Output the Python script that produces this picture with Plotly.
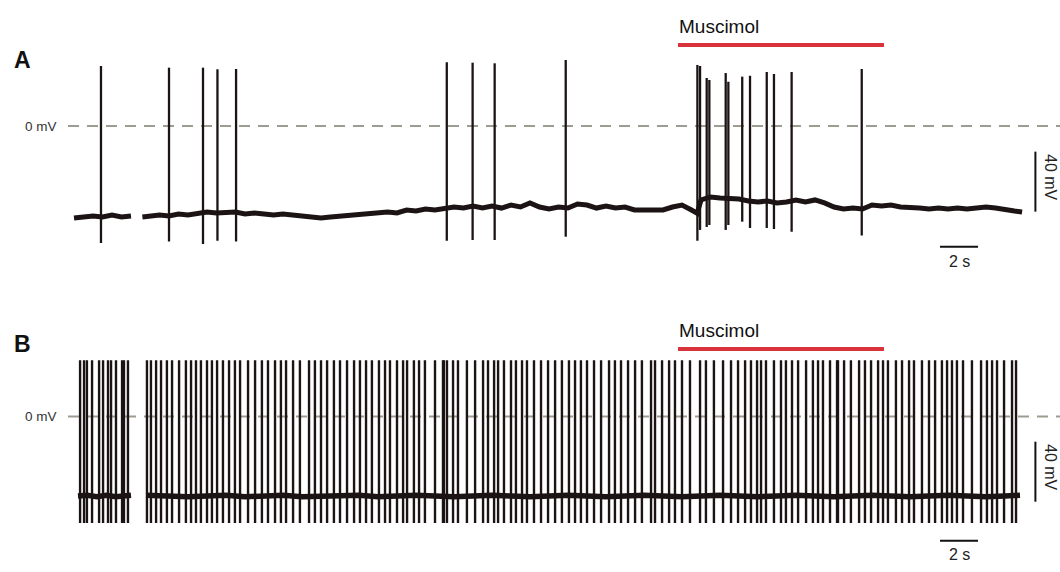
import plotly.graph_objects as go

# ---------------- data ----------------
# Panel A: spike times (s), peak and trough potentials (mV)
A_SPIKE_T = [1.42, 5.00, 6.79, 7.55, 8.53, 19.62, 20.98, 22.14, 25.88,
             32.81, 32.95, 33.30, 33.44, 34.30, 34.44, 35.17, 35.58, 36.46, 36.84, 37.77, 41.46]
A_SPIKE_PEAK = [40, 38.9, 38.9, 37.8, 38, 42.5, 42.2, 41.8, 44,
                40.7, 40, 32, 30.7, 35.3, 29.5, 32.9, 33.5, 36, 34.7, 36, 38]
A_SPIKE_TROUGH = [-78, -77, -78.7, -76.5, -77, -76.5, -76, -76, -73.8,
                  -76.5, -69.3, -67.3, -66, -69.3, -66, -63.8, -68, -68, -68.7, -70.5, -73]

# Panel A: baseline membrane potential (None = gap in recording)
A_BASE_T = [0.0, 0.5, 1.0, 1.5, 2.0, 2.5, 3.0, None,
            3.6, 4.0, 4.5, 5.0, 5.5, 6.0, 6.5, 7.0, 7.5, 8.0, 8.5, 9.0, 9.5, 10.0,
            10.5, 11.0, 11.5, 12.0, 12.5, 13.0, 13.5, 14.0, 14.5, 15.0, 15.5, 16.0,
            16.5, 17.0, 17.5, 18.0, 18.5, 19.0, 19.5, 20.0, 20.5, 21.0, 21.5, 22.0,
            22.5, 23.0, 23.5, 24.0, 24.5, 25.0, 25.5, 26.0, 26.5, 27.0, 27.5, 28.0,
            28.5, 29.0, 29.5, 30.0, 30.5, 31.0, 31.5, 32.0, 32.5, 32.8, 33.0, 33.5,
            34.0, 34.5, 35.0, 35.5, 36.0, 36.5, 37.0, 37.5, 38.0, 38.5, 39.0, 39.5,
            40.0, 40.5, 41.0, 41.5, 42.0, 42.5, 43.0, 43.5, 44.0, 44.5, 45.0, 45.5,
            46.0, 46.5, 47.0, 47.5, 48.0, 48.5, 49.0, 49.5, 49.9]
A_BASE_MV = [-61.3, -60.7, -60.0, -60.7, -59.3, -60.7, -60.0, None,
             -60.7, -60.0, -59.3, -60.0, -58.7, -59.3, -58.7, -57.3, -58.0, -58.0, -57.3, -58.7, -58.0, -58.7,
             -59.3, -58.7, -59.3, -60.0, -60.7, -61.3, -60.7, -60.0, -59.3, -59.3, -58.7, -58.0,
             -57.3, -58.0, -56.0, -56.7, -55.3, -56.0, -55.3, -54.0, -54.7, -53.3, -54.7, -53.3,
             -54.7, -52.7, -54.0, -51.3, -54.0, -55.3, -54.0, -54.7, -52.0, -52.7, -54.7, -53.3,
             -54.7, -54.0, -56.0, -56.0, -56.7, -56.0, -54.0, -52.7, -56.0, -58.2, -49.3, -47.3,
             -48.0, -48.0, -48.7, -50.0, -50.7, -50.0, -51.3, -50.7, -49.3, -50.7, -49.3, -51.3,
             -54.0, -55.3, -54.7, -55.3, -52.7, -53.3, -52.7, -54.0, -54.0, -54.7, -55.3, -54.7,
             -55.3, -54.7, -55.3, -54.7, -54.0, -54.7, -55.3, -56.7, -57.3]

# Panel B: spike times (s)
B_SPIKE_T = [0.32, 0.53, 0.68, 0.95, 1.32, 1.53, 1.79, 1.95, 2.21, 2.53, 2.63, 2.84,
             3.84, 4.05, 4.32, 4.58, 4.89, 5.16, 5.53, 5.89, 6.16, 6.42, 6.68, 7.00, 7.26, 7.53,
             7.84, 8.16, 8.47, 8.74, 9.16, 9.53, 9.89, 10.21, 10.58, 10.89, 11.16, 11.53, 11.89,
             12.37, 12.68, 13.00, 13.32, 13.68, 14.00, 14.37, 14.74, 15.05, 15.37, 15.68, 16.05,
             16.37, 16.63, 17.00, 17.32, 17.53, 17.89, 18.16, 18.47, 19.00, 19.42, 19.47, 19.63,
             19.95, 20.21, 20.68, 21.11, 21.53, 21.79, 22.11, 22.32, 22.63, 23.00, 23.26, 23.58,
             23.84, 24.21, 24.58, 24.95, 25.32, 25.68, 26.05, 26.37, 26.68, 27.00, 27.37, 27.74,
             28.16, 28.47, 28.79, 29.16, 29.53, 29.89, 30.37, 30.58, 30.95, 31.32, 31.63, 32.00,
             32.42, 32.95, 33.26, 33.68, 34.16, 34.58, 34.95, 35.32, 35.63, 35.95, 36.16, 36.42,
             36.84, 37.21, 37.47, 37.79, 38.11, 38.53, 38.89, 39.16, 39.42, 39.79, 40.16, 40.21,
             40.53, 40.89, 41.32, 41.63, 41.95, 42.32, 42.58, 42.84, 43.26, 43.58, 43.95, 44.21,
             44.63, 45.00, 45.32, 45.68, 45.95, 46.21, 46.47, 46.79, 47.26, 47.74, 48.05, 48.32,
             48.58, 48.95, 49.37, 49.58]
B_SPIKE_PEAK_MV = 37.5
B_SPIKE_TROUGH_MV = -71.0

B_BASE_T = [0.21, 0.7, 1.2, 1.7, 2.2, 2.7, 3.0, None,
            3.79, 4.5, 5.0, 6.0, 7.0, 8.0, 9.0, 10.0, 11.0, 12.0, 13.0, 14.0, 15.0, 16.0,
            17.0, 18.0, 19.0, 20.0, 21.0, 22.0, 23.0, 24.0, 25.0, 26.0, 27.0, 28.0, 29.0,
            30.0, 31.0, 32.0, 33.0, 34.0, 35.0, 36.0, 37.0, 38.0, 39.0, 40.0, 41.0, 42.0,
            43.0, 44.0, 45.0, 46.0, 47.0, 48.0, 49.0, 49.79]
B_BASE_MV = [-53.0, -52.5, -53.5, -52.5, -53.5, -53.0, -52.5, None,
             -52.5, -53.0, -52.5, -53.5, -53.0, -52.5, -53.5, -53.0, -52.5, -53.5, -53.0, -53.0,
             -52.5, -53.5, -53.0, -52.5, -53.0, -53.5, -53.0, -52.5, -53.0, -53.5, -53.0, -52.5,
             -53.0, -53.5, -53.0, -52.5, -53.0, -53.5, -53.0, -52.5, -53.0, -53.5, -53.0, -52.5,
             -53.0, -53.5, -53.0, -52.5, -53.0, -53.5, -53.0, -52.5, -53.0, -53.5, -53.0, -52.5]

MUSCIMOL_WINDOW = [31.79, 42.63]   # s
SCALE_T = 2        # s
SCALE_MV = 40      # mV
PANEL_LABELS = ["A", "B"]

# ---------------- figure ----------------
W, H = 1060, 572
TRACE = "#1c1414"
DASH = "#9e9c90"
RED = "#d8333a"
FONT = "Liberation Sans, Arial, sans-serif"


def spike_xy(times, peaks, troughs):
    xs, ys = [], []
    for t, p, tr in zip(times, peaks, troughs):
        xs += [t, t, None]
        ys += [p, tr, None]
    return xs, ys


fig = go.Figure()

# Panel A
fig.add_trace(go.Scatter(x=A_BASE_T, y=A_BASE_MV, mode="lines",
                         line=dict(color=TRACE, width=5), xaxis="x", yaxis="y",
                         hoverinfo="skip"))
ax, ay = spike_xy(A_SPIKE_T, A_SPIKE_PEAK, A_SPIKE_TROUGH)
fig.add_trace(go.Scatter(x=ax, y=ay, mode="lines",
                         line=dict(color=TRACE, width=2.3), xaxis="x", yaxis="y",
                         hoverinfo="skip"))

# Panel B
fig.add_trace(go.Scatter(x=B_BASE_T, y=B_BASE_MV, mode="lines",
                         line=dict(color=TRACE, width=5.5), xaxis="x2", yaxis="y2",
                         hoverinfo="skip"))
bx, by = spike_xy(B_SPIKE_T, [B_SPIKE_PEAK_MV] * len(B_SPIKE_T),
                  [B_SPIKE_TROUGH_MV] * len(B_SPIKE_T))
fig.add_trace(go.Scatter(x=bx, y=by, mode="lines",
                         line=dict(color=TRACE, width=2.4), xaxis="x2", yaxis="y2",
                         hoverinfo="skip"))

# axis geometry: px = 74 + 19*t ; A: py = 126 - 1.5*mV ; B: py = 416.5 - 1.5*mV
x_range = [-74 / 19, (W - 74) / 19]
half = H / 2
ya_range = [(126 - half) / 1.5, 126 / 1.5]
yb_range = [(416.5 - H) / 1.5, (416.5 - half) / 1.5]

hidden = dict(visible=False, showgrid=False, zeroline=False, fixedrange=True)
fig.update_layout(
    width=W, height=H, autosize=False,
    margin=dict(l=0, r=0, t=0, b=0),
    paper_bgcolor="white", plot_bgcolor="white",
    showlegend=False,
    xaxis=dict(domain=[0, 1], range=x_range, anchor="y", **hidden),
    yaxis=dict(domain=[0.5, 1], range=ya_range, anchor="x", **hidden),
    xaxis2=dict(domain=[0, 1], range=x_range, anchor="y2", **hidden),
    yaxis2=dict(domain=[0, 0.5], range=yb_range, anchor="x2", **hidden),
)

shapes = []
annotations = []
panels = [("x", "y", 54.0, -80.5, -17.1), ("x2", "y2", 45.0, -82.8, -16.8)]
for i, (xr, yr, bar_mv, hbar_mv, vtop_mv) in enumerate(panels):
    # 0 mV dashed reference
    shapes.append(dict(type="line", xref="paper", yref=yr, x0=68 / W, x1=1.0, y0=0, y1=0,
                       line=dict(color=DASH, width=2, dash="11px,8px"), layer="below"))
    annotations.append(dict(text="0 mV", xref="paper", yref=yr, x=59 / W, y=0,
                            xanchor="right", yanchor="middle", showarrow=False,
                            font=dict(family=FONT, size=13.5, color="#333333")))
    # muscimol bar
    shapes.append(dict(type="line", xref=xr, yref=yr, x0=MUSCIMOL_WINDOW[0], x1=MUSCIMOL_WINDOW[1],
                       y0=bar_mv, y1=bar_mv, line=dict(color=RED, width=4)))
    annotations.append(dict(text="Muscimol", xref=xr, yref=yr, x=MUSCIMOL_WINDOW[0] - 0.05,
                            y=bar_mv + 12.5, xanchor="left", yanchor="middle", showarrow=False,
                            font=dict(family=FONT, size=19, color="#111111")))
    # scale bars
    t0 = 45.58
    shapes.append(dict(type="line", xref=xr, yref=yr, x0=t0, x1=t0 + SCALE_T,
                       y0=hbar_mv, y1=hbar_mv, line=dict(color="#111111", width=2)))
    annotations.append(dict(text="2 s", xref=xr, yref=yr, x=t0 + SCALE_T / 2, y=hbar_mv - 9.5,
                            xanchor="center", yanchor="middle", showarrow=False,
                            font=dict(family=FONT, size=16, color="#222222")))
    tv = 50.6
    shapes.append(dict(type="line", xref=xr, yref=yr, x0=tv, x1=tv,
                       y0=vtop_mv, y1=vtop_mv - SCALE_MV, line=dict(color="#111111", width=2)))
    annotations.append(dict(text="40 mV", xref=xr, yref=yr, x=tv + 0.83, y=vtop_mv - SCALE_MV / 2 + 3,
                            xanchor="center", yanchor="middle", textangle=90, showarrow=False,
                            font=dict(family=FONT, size=16, color="#222222")))

# panel letters
for lab, py in zip(PANEL_LABELS, [60, 344]):
    annotations.append(dict(text="<b>%s</b>" % lab, xref="paper", yref="paper", x=22 / W,
                            y=1 - py / H, xanchor="center", yanchor="middle", showarrow=False,
                            font=dict(family=FONT, size=23, color="#111111")))

fig.update_layout(shapes=shapes, annotations=annotations)
fig.write_html("out.html")
